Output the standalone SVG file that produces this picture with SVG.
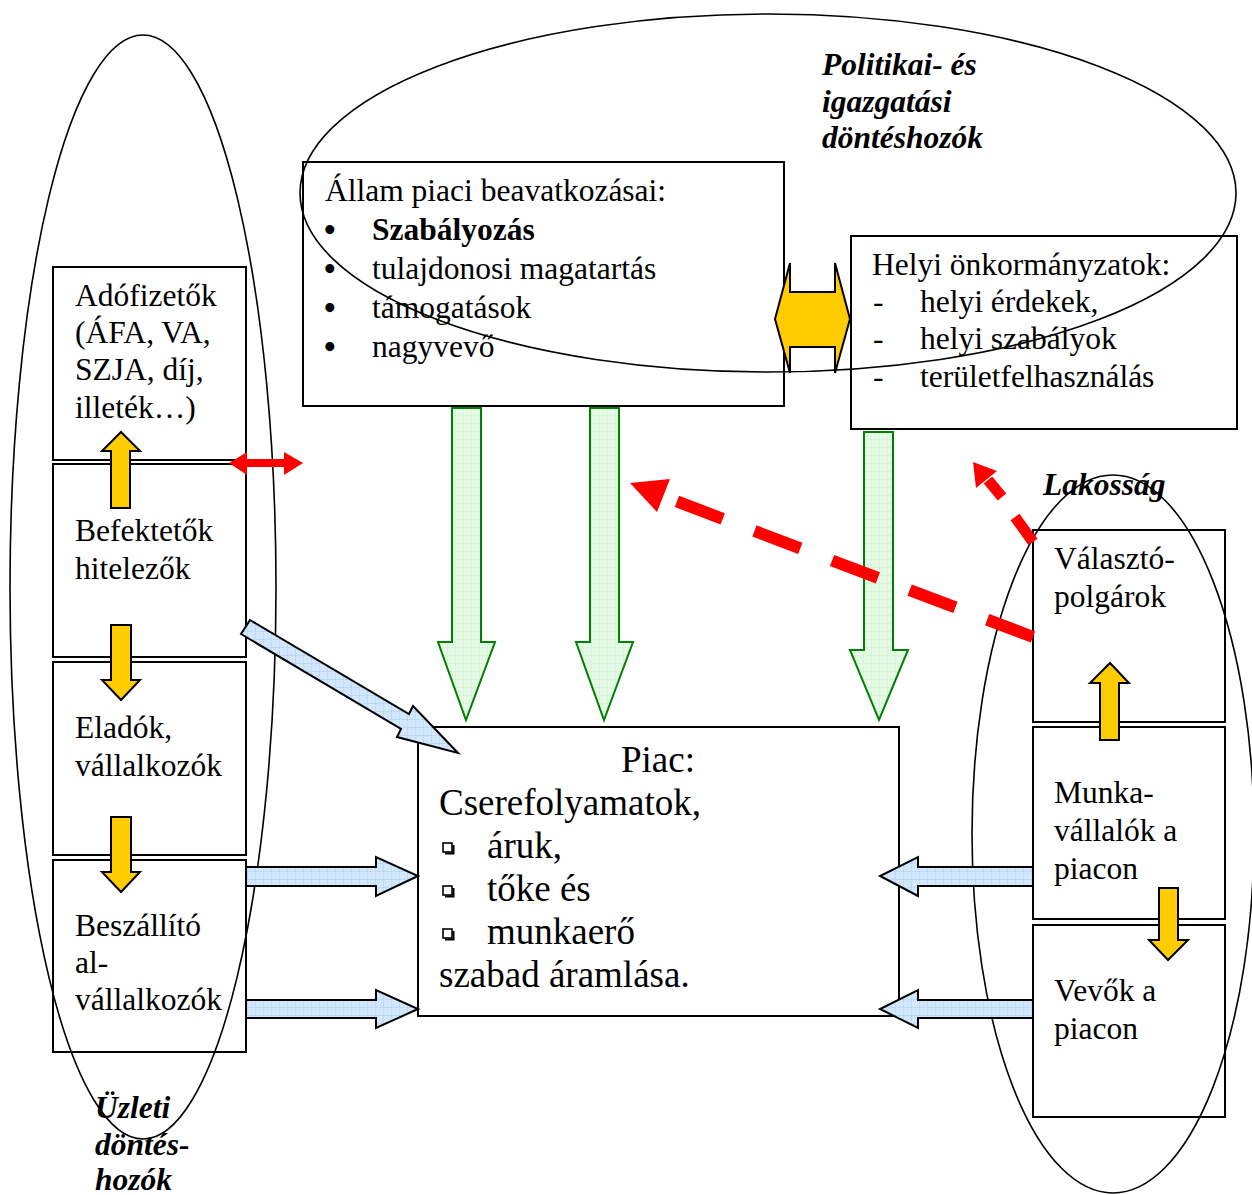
<svg xmlns="http://www.w3.org/2000/svg" width="1252" height="1195" viewBox="0 0 1252 1195">
<defs>
<style>
.box{fill:#fff;stroke:#000;stroke-width:2}
.ell{fill:none;stroke:#000;stroke-width:1.6}
.t{font-family:"Liberation Serif","Times New Roman",serif;font-size:31.5px;fill:#000}
.bul{font-family:"Liberation Serif","Times New Roman",serif;font-size:33px;font-weight:bold;fill:#000}
.tp{font-family:"Liberation Serif","Times New Roman",serif;font-size:37px;fill:#000}
.lab{font-family:"Liberation Serif","Times New Roman",serif;font-size:31.5px;font-weight:bold;font-style:italic;fill:#000}
.green{fill:url(#gridG);stroke:#008000;stroke-width:2}
.blue{fill:url(#gridB);stroke:#000;stroke-width:2}
.yel{fill:#FFCC00;stroke:#000;stroke-width:2}
.red{fill:#FF0000;stroke:none}
.redl{stroke:#FF0000;fill:none}
</style>
<pattern id="gridG" width="8" height="8" patternUnits="userSpaceOnUse"><rect width="8" height="8" fill="#e6fbe6"/><path d="M8 0V8M0 8H8" stroke="#c9f2c9" stroke-width="1"/></pattern>
<pattern id="gridB" width="8" height="8" patternUnits="userSpaceOnUse"><rect width="8" height="8" fill="#d2e7fc"/><path d="M8 0V8M0 8H8" stroke="#a9d0f7" stroke-width="1"/></pattern>
<g id="sq"><rect x="0" y="0" width="9" height="9" fill="#fff" stroke="#000" stroke-width="1.6"/><path d="M2 10.5H10.5V2" fill="none" stroke="#000" stroke-width="2"/></g>
</defs>
<rect width="1252" height="1195" fill="#fff"/>

<g id="allam">
<rect class="box" x="303" y="162" width="481" height="244"/>
<text class="t" x="325" y="201">Állam piaci beavatkozásai:</text>
<text class="bul" x="324" y="241">•</text><text class="t" x="372" y="240" font-weight="bold">Szabályozás</text>
<text class="bul" x="324" y="280">•</text><text class="t" x="372" y="279">tulajdonosi magatartás</text>
<text class="bul" x="324" y="319">•</text><text class="t" x="372" y="318">támogatások</text>
<text class="bul" x="324" y="358">•</text><text class="t" x="372" y="357">nagyvevő</text>
</g>

<g id="helyi">
<rect class="box" x="851" y="236" width="386" height="193"/>
<text class="t" x="872" y="275">Helyi önkormányzatok:</text>
<text class="t" x="873" y="312">-</text><text class="t" x="920" y="312">helyi érdekek,</text>
<text class="t" x="873" y="349">-</text><text class="t" x="920" y="349">helyi szabályok</text>
<text class="t" x="873" y="387">-</text><text class="t" x="920" y="387">területfelhasználás</text>
</g>

<g id="adofizetok">
<rect class="box" x="53" y="267" width="193" height="193"/>
<text class="t" x="75" y="306">Adófizetők</text>
<text class="t" x="75" y="343">(ÁFA, VA,</text>
<text class="t" x="75" y="380">SZJA, díj,</text>
<text class="t" x="75" y="418">illeték…)</text>
</g>
<g id="befektetok">
<rect class="box" x="53" y="464" width="193" height="193"/>
<text class="t" x="75" y="541">Befektetők</text>
<text class="t" x="75" y="579">hitelezők</text>
</g>
<g id="eladok">
<rect class="box" x="53" y="662" width="193" height="193"/>
<text class="t" x="75" y="738">Eladók,</text>
<text class="t" x="75" y="776">vállalkozók</text>
</g>
<g id="beszallito">
<rect class="box" x="53" y="860" width="193" height="192"/>
<text class="t" x="75" y="936">Beszállító</text>
<text class="t" x="75" y="973">al-</text>
<text class="t" x="75" y="1010">vállalkozók</text>
</g>

<g id="piac">
<rect class="box" x="418" y="727" width="481" height="289"/>
<text class="tp" x="658" y="772" text-anchor="middle">Piac:</text>
<text class="tp" x="439" y="815">Cserefolyamatok,</text>
<use href="#sq" x="443" y="843"/><text class="tp" x="487" y="858">áruk,</text>
<use href="#sq" x="443" y="886"/><text class="tp" x="487" y="901">tőke és</text>
<use href="#sq" x="443" y="929"/><text class="tp" x="487" y="944">munkaerő</text>
<text class="tp" x="439" y="987">szabad áramlása.</text>
</g>

<g id="valaszto">
<rect class="box" x="1033" y="530" width="192" height="192"/>
<text class="t" x="1054" y="569">Választó-</text>
<text class="t" x="1054" y="607">polgárok</text>
</g>
<g id="munka">
<rect class="box" x="1033" y="727" width="192" height="192"/>
<text class="t" x="1054" y="803">Munka-</text>
<text class="t" x="1054" y="841">vállalók a</text>
<text class="t" x="1054" y="879">piacon</text>
</g>
<g id="vevok">
<rect class="box" x="1033" y="925" width="192" height="192"/>
<text class="t" x="1054" y="1001">Vevők a</text>
<text class="t" x="1054" y="1039">piacon</text>
</g>

<g id="groups">
<ellipse class="ell" cx="768" cy="193" rx="468" ry="179"/>
<ellipse class="ell" cx="143" cy="587" rx="133" ry="552"/>
<ellipse class="ell" cx="1113" cy="834" rx="141" ry="359"/>
<text class="lab" x="822" y="75">Politikai- és</text>
<text class="lab" x="822" y="112">igazgatási</text>
<text class="lab" x="822" y="148">döntéshozók</text>
<text class="lab" x="1043" y="495">Lakosság</text>
<text class="lab" x="95" y="1118">Üzleti</text>
<text class="lab" x="95" y="1155">döntés-</text>
<text class="lab" x="95" y="1190">hozók</text>
</g>

<g id="connectors">
<polygon class="green" points="452,408 481,408 481,642 495,642 466,720 438,642 452,642"/>
<polygon class="green" points="590,408 619,408 619,642 633,642 604,720 576,642 590,642"/>
<polygon class="green" points="864,432 893,432 893,650 908,650 879,720 850,650 864,650"/>

<polygon class="yel" points="111,508 130,508 130,451 140,451 121,432 102,451 111,451"/>
<polygon class="yel" points="111,625 131,625 131,680 140,680 121,700 102,680 111,680"/>
<polygon class="yel" points="111,817 131,817 131,872 140,872 121,892 102,872 111,872"/>
<polygon class="yel" points="1100,740 1119,740 1119,683 1129,683 1110,663 1090,683 1100,683"/>
<polygon class="yel" points="1159,888 1178,888 1178,940 1188,940 1168,960 1149,940 1159,940"/>
<polygon class="yel" points="775,319 790,263 790,292 835,292 835,263 850,319 835,373 835,347 790,347 790,373"/>

<polygon class="red" points="229,463 247,452 247,459 284,459 284,452 303,463 284,475 284,467 247,467 247,475"/>

<line class="redl" x1="1033" y1="637" x2="668" y2="498" stroke-width="12" stroke-dasharray="49 34"/>
<polygon class="red" points="630,483 670,479 657,512"/>
<line class="redl" x1="1033" y1="542" x2="1015" y2="517" stroke-width="11"/>
<line class="redl" x1="1002" y1="497" x2="988" y2="480" stroke-width="11"/>
<polygon class="red" points="973,462 997,471 976,488"/>

<polygon class="blue" points="250,620 409,714 413,706 458,753 397,737 401,729 241,634"/>
<polygon class="blue" points="246,867 376,867 376,857 418,876 376,896 376,886 246,886"/>
<polygon class="blue" points="246,1000 376,1000 376,990 418,1009 376,1028 376,1018 246,1018"/>
<polygon class="blue" points="1033,867 918,867 918,857 880,876 918,896 918,886 1033,886"/>
<polygon class="blue" points="1033,1000 918,1000 918,990 880,1009 918,1028 918,1018 1033,1018"/>
</g>
</svg>
